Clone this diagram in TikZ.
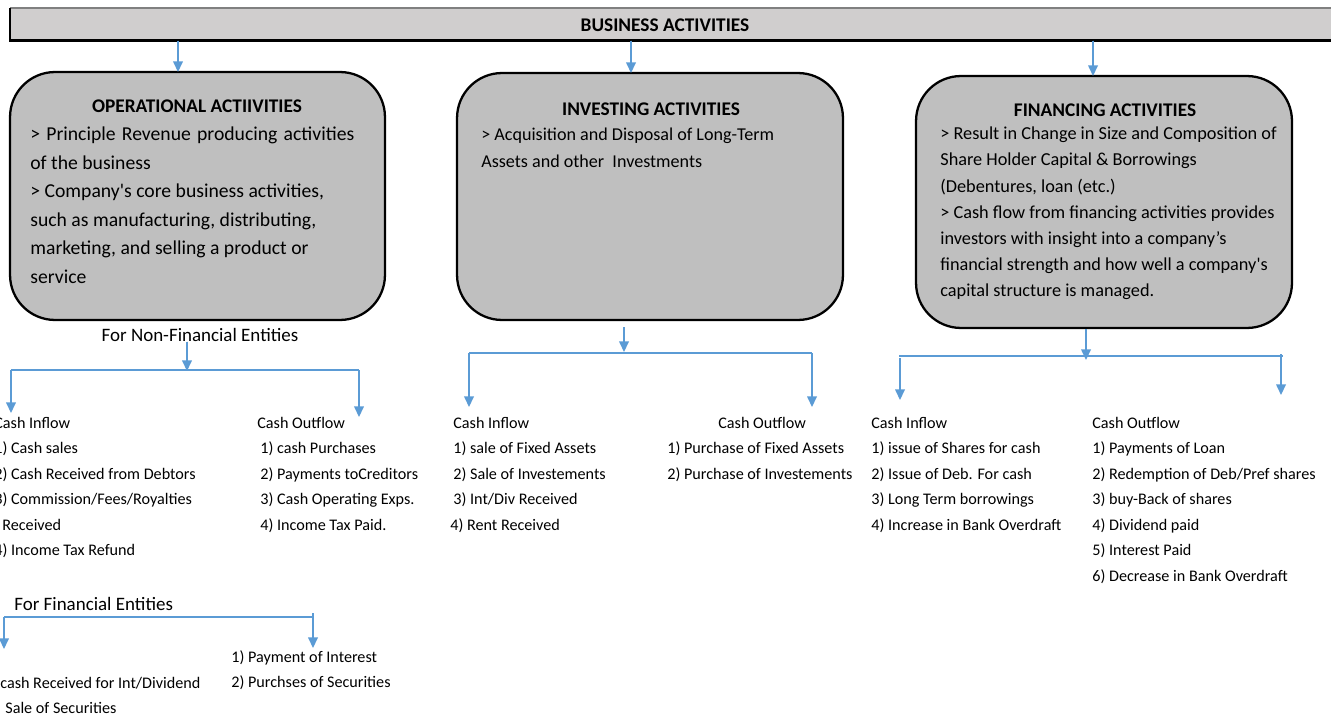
\documentclass[tikz,border=0pt]{standalone}
\usepackage{fontspec}
\setmainfont{Carlito}
\usetikzlibrary{arrows.meta,positioning}
\definecolor{flowblue}{HTML}{5B9BD5}
\definecolor{boxgray}{HTML}{BFBFBF}
\definecolor{bargray}{HTML}{D0CECE}
\newcommand{\listfont}{\fontsize{9.2}{14.5}\selectfont}

\begin{document}
\begin{tikzpicture}[x=0.02cm,y=-0.02cm,>={Triangle[width=5.5pt,length=6pt]}]
  \tikzstyle{actbox}=[draw=black,line width=1.3pt,fill=boxgray,rounded corners=0.9cm,inner sep=0pt]
  \tikzstyle{flow}=[->,draw=flowblue,fill=flowblue,line width=0.75pt]
  \tikzstyle{link}=[draw=flowblue,line width=0.75pt]
  \tikzstyle{headtext}=[font=\fontsize{11}{13}\selectfont\bfseries,inner sep=0pt]
  \tikzstyle{boxtext}=[anchor=north west,align=left,inner sep=0pt]
  \tikzstyle{flowlist}=[anchor=north west,align=left,inner sep=0pt,font=\listfont]
  \tikzstyle{entity}=[font=\fontsize{10.8}{13}\selectfont,inner sep=0pt]

  \useasboundingbox (0,0) rectangle (1331,719);

  % top bar
  \node[fill=bargray,inner sep=0pt,minimum width=26.8cm,minimum height=0.64cm,anchor=north west] (bar) at (10,8) {};
  \draw[gray,line width=0.6pt] (bar.north west) -- (bar.north east);
  \draw[line width=1.4pt] (bar.north west) -- (bar.south west) -- (bar.south east);
  \node[headtext] (bartitle) at (665,25) {BUSINESS ACTIVITIES};

  % the three activity boxes
  \node[actbox,minimum width=7.5cm,minimum height=4.96cm]  (oper)    at (197.5,196) {};
  \node[actbox,minimum width=7.72cm,minimum height=4.94cm] (invest)  at (650,196.5) {};
  \node[actbox,minimum width=7.52cm,minimum height=5.04cm] (finance) at (1104,202) {};

  \coordinate (operin)    at (178,72);
  \coordinate (investin)  at (631,73);
  \coordinate (financein) at (1093,76);
  \draw[flow] (operin |- bar.south) -- (operin);
  \draw[flow] (investin |- bar.south) -- (investin);
  \draw[flow] (financein |- bar.south) -- (financein);

  \node[headtext] (opertitle) at (197,106) {OPERATIONAL ACTIIVITIES};
  \node[boxtext,font=\fontsize{11.2}{16.3}\selectfont] (opertext) at (30,120)
    {\strut\makebox[6.48cm][s]{> Principle Revenue producing activities}\\of the business\\
     > Company\textquotesingle s core business activities,\\such as manufacturing, distributing,\\
     marketing, and selling a product or\\service};

  \node[headtext] (investtitle) at (651,109) {INVESTING ACTIVITIES};
  \node[boxtext,font=\fontsize{10.3}{15.3}\selectfont] (investtext) at (481,121)
    {\strut> Acquisition and Disposal of Long-Term\\Assets and other\ \ Investments};

  \node[headtext] (financetitle) at (1105,110) {FINANCING ACTIVITIES};
  \node[boxtext,font=\fontsize{10.4}{14.9}\selectfont] (financetext) at (940,121)
    {\strut> Result in Change in Size and Composition of\\Share Holder Capital \& Borrowings\\
     (Debentures, loan (etc.)\\> Cash flow from financing activities provides\\
     investors with insight into a company’s\\financial strength and how well a company\textquotesingle s\\
     capital structure is managed.};

  % operational: non-financial entities
  \node[entity] (nonfin) at (200,335) {For Non-Financial Entities};
  \coordinate (nffork) at (187,371);
  \coordinate (nfleft) at (11,370);
  \coordinate (nfright) at (359,370);
  \draw[flow] (nonfin.base -| nffork) -- (nffork);
  \draw[link] (nfleft) -- (nfright);
  \draw[flow] (nfleft) -- ++(0,43);
  \draw[flow] (nfright) -- ++(0,47);

  \node[flowlist] (nfinflow) at (-6,410)
    {\strut Cash Inflow\\1) Cash sales\\2) Cash Received from Debtors\\3) Commission/Fees/Royalties\\
     \hspace*{0.16cm}Received\\4) Income Tax Refund};
  \node[flowlist] (nfoutflow) at (257,410)
    {\strut Cash Outflow\\\hspace*{0.06cm}1) cash Purchases\\\hspace*{0.06cm}2) Payments toCreditors\\
     \hspace*{0.06cm}3) Cash Operating Exps.\\\hspace*{0.06cm}4) Income Tax Paid.};

  % operational: financial entities
  \node[entity,anchor=west] (fin) at (14,604) {For Financial Entities};
  \coordinate (fleft) at (4,617);
  \coordinate (fright) at (313,617);
  \draw[link] (fleft) -- (fright);
  \draw[flow] (fleft) -- ++(0,32);
  \draw[flow] ([yshift=0.08cm]fright) -- ++(0,35);

  \node[flowlist] (finoutflow) at (231,644) {\strut 1) Payment of Interest\\2) Purchses of Securities};
  \node[flowlist] (fininflow) at (0,670) {\strut cash Received for Int/Dividend\\\hspace*{0.1cm}Sale of Securities};

  % investing
  \coordinate (invfork) at (624,352);
  \coordinate (invleft) at (469,353);
  \coordinate (invright) at (812,353);
  \draw[flow] (invest.south -| invfork) ++(0,6) -- (invfork);
  \draw[link] (invleft) -- (invright);
  \draw[flow] (invleft) -- ++(0,54);
  \draw[flow] (invright) -- ++(0,54);

  \node[flowlist] (invinflow) at (453,410)
    {\strut Cash Inflow\\1) sale of Fixed Assets\\2) Sale of Investements\\3) Int/Div Received\\
     \hspace*{-0.06cm}4) Rent Received};
  \node[flowlist] (invoutflow) at (667,410)
    {\strut\hspace*{1.02cm}Cash Outflow\\1) Purchase of Fixed Assets\\2) Purchase of Investements};

  % financing
  \coordinate (finfork) at (1086,360);
  \coordinate (finleft) at (899,356);
  \coordinate (finright) at (1283,356);
  \draw[flow] (finance.south -| finfork) -- (finfork);
  \draw[link] (finleft) -- (finright);
  \draw[flow] (finleft -| 900,0) ++(0,2) -- ++(0,42);
  \draw[flow] (finright -| 1281,0) ++(0,-2) -- ++(0,41);

  \node[flowlist] (fininflow2) at (871,410)
    {\strut Cash Inflow\\1) issue of Shares for cash\\2) Issue of Deb. For cash\\3) Long Term borrowings\\
     4) Increase in Bank Overdraft};
  \node[flowlist] (finoutflow2) at (1092,410)
    {\strut Cash Outflow\\1) Payments of Loan\\2) Redemption of Deb/Pref shares\\3) buy-Back of shares\\
     4) Dividend paid\\5) Interest Paid\\6) Decrease in Bank Overdraft};
\end{tikzpicture}
\end{document}
